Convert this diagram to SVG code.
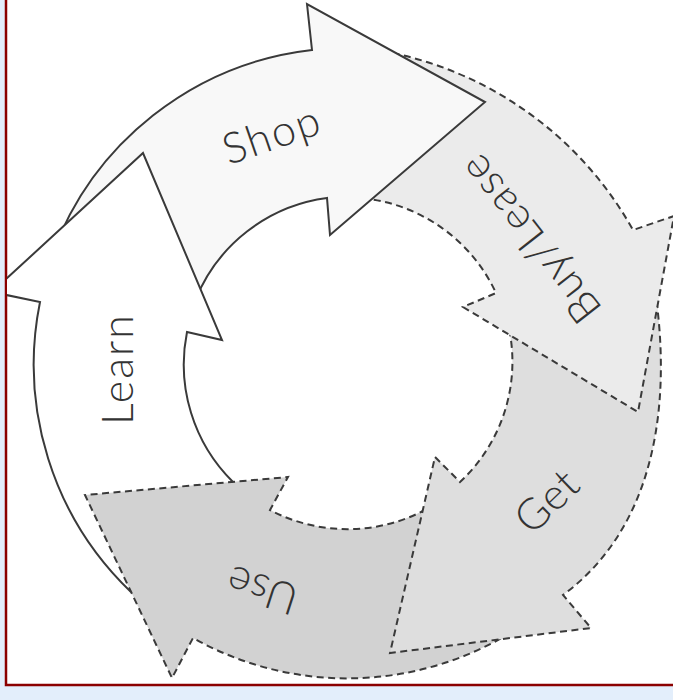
<svg xmlns="http://www.w3.org/2000/svg" width="673" height="700" viewBox="0 0 673 700">
<defs>
<clipPath id="frameClip"><rect x="7" y="0" width="670" height="684"/></clipPath>
<style>
.solid{stroke:#3a3a3a;stroke-width:2;stroke-linejoin:miter}
.dash{stroke:#3a3a3a;stroke-width:2;stroke-dasharray:7 4.5;stroke-linejoin:miter}
.lbl{font-family:Lato,"Open Sans","DejaVu Sans",sans-serif;font-weight:300;font-size:43px;fill:#333333;text-anchor:middle}
</style>
</defs>
<rect x="0" y="0" width="673" height="700" fill="#e3eefb"/>
<rect x="6" y="-5" width="680" height="690" fill="#ffffff" stroke="#8b0000" stroke-width="2.5"/>
<g clip-path="url(#frameClip)">
<g id="connectors"></g>
<g id="use">
<path class="dash" fill="#d2d2d2" d="M530,620 A315,315 0 0,1 193,638 L172,678 L85,495 L288,477 L270,510 A166,166 0 0,0 440,501 Z"/>
<text class="lbl" transform="translate(267,576) rotate(198)" textLength="72" lengthAdjust="spacing">Use</text>
</g>
<g id="get">
<path class="dash" fill="#dedede" d="M655,290 C670,390 662,522 563,595 L591,628 L390,653 L435,457 L460,482 A164,164 0 0,0 507,320 Z"/>
<text class="lbl" transform="translate(557,512) rotate(-44)" textLength="70" lengthAdjust="spacing">Get</text>
</g>
<g id="buylease">
<path class="dash" fill="#ebebeb" d="M370,49 A360,360 0 0,1 633,230 L674,216 L638,412 L463,307 L496,293 A165,165 0 0,0 360,198 Z"/>
<text class="lbl" transform="translate(542,230) rotate(232)" textLength="200" lengthAdjust="spacing">Buy/Lease</text>
</g>
<g id="shop">
<path class="solid" fill="#f8f8f8" d="M52,255 A315,315 0 0,1 312,50 L307,4 L485,102 L330,235 L327,198 A165,165 0 0,0 195,301 Z"/>
<text class="lbl" transform="translate(276,149) rotate(-19)" textLength="100" lengthAdjust="spacing">Shop</text>
</g>
<g id="learn">
<path fill="#ffffff" d="M40,302 L-8,292 L143,153 L222,340 L187,332 A165,165 0 0,0 184,380 L34,390 A315,315 0 0,1 40,302 Z"/>
<path class="solid" fill="none" d="M131,592 A315,315 0 0,1 40,302 L-8,292 L143,153 L222,340 L187,332 A165,165 0 0,0 233,482"/>
<text class="lbl" transform="translate(133,370) rotate(-90)" textLength="110" lengthAdjust="spacing">Learn</text>
</g>
</g>
</svg>
